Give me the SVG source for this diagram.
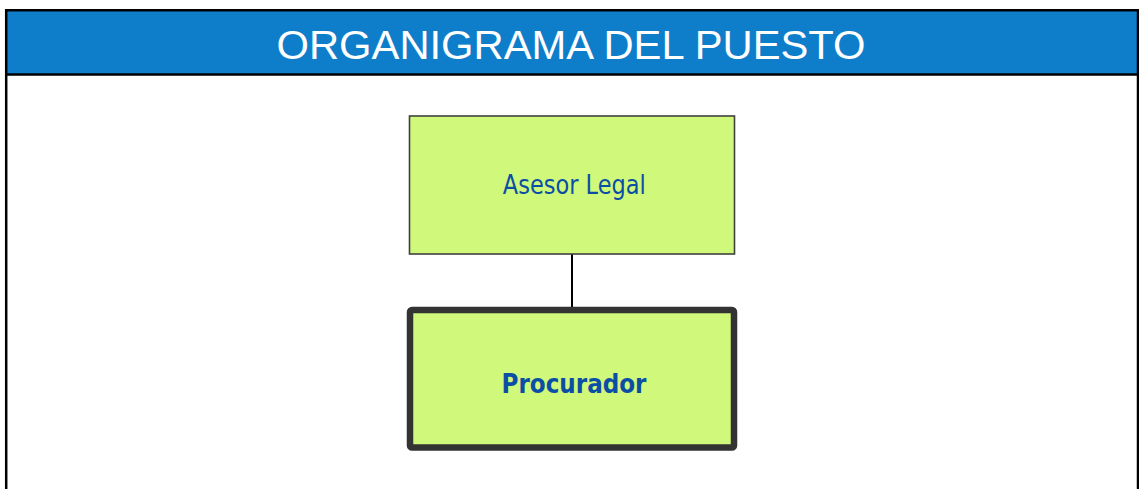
<svg xmlns="http://www.w3.org/2000/svg" width="1139" height="489" viewBox="0 0 1139 489">
  <style>
    .frame { fill: none; stroke: #000; stroke-width: 2.5; }
    .box { fill: #D0F87A; }
    .lbl { font-family: "DejaVu Sans", Verdana, sans-serif; font-size: 26px; fill: #0B4EA6; text-anchor: middle; }
    .title { font-family: "Liberation Sans", Arial, sans-serif; font-size: 41px; fill: #fff; text-anchor: middle; }
  </style>
  <rect x="0" y="0" width="1139" height="489" fill="#fff"/>
  <g id="header">
    <rect x="6" y="10" width="1132" height="64.5" fill="#0E7ECB"/>
    <text class="title" x="571" y="59" textLength="589" lengthAdjust="spacingAndGlyphs">ORGANIGRAMA DEL PUESTO</text>
  </g>
  <path class="frame" d="M6.2 489 V10.2 H1138 V489 M6 74.5 H1138"/>
  <g id="connectors">
    <line x1="572" y1="254" x2="572" y2="310" stroke="#000" stroke-width="2"/>
  </g>
  <g id="asesor-legal">
    <rect class="box" x="409.5" y="116" width="325" height="138" stroke="#404040" stroke-width="1.6"/>
    <text class="lbl" x="574.3" y="193.5" textLength="143" lengthAdjust="spacingAndGlyphs">Asesor Legal</text>
  </g>
  <g id="procurador">
    <rect class="box" x="410" y="310" width="324" height="137.5" rx="2" stroke="#333" stroke-width="6.5"/>
    <text class="lbl" x="574" y="393" font-weight="bold" textLength="145" lengthAdjust="spacingAndGlyphs">Procurador</text>
  </g>
</svg>
